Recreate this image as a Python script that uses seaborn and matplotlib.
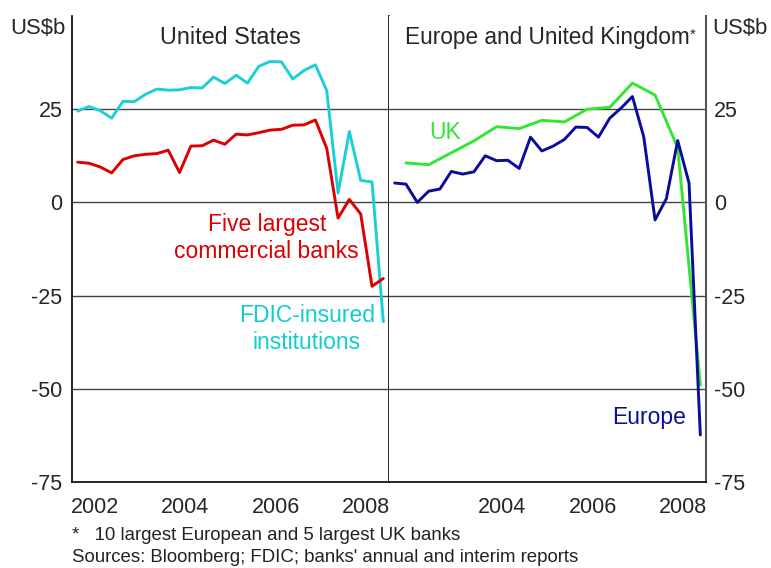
import numpy as np
import pandas as pd
import matplotlib
matplotlib.use("Agg")
import matplotlib.pyplot as plt
import seaborn as sns

# ---------------- data (US$b) ----------------
quarters = pd.period_range("2002Q1", "2008Q4", freq="Q")
fdic = [24.5, 25.7, 24.6, 22.6, 27.1, 27.0, 29.0, 30.4, 30.1, 30.2, 30.8, 30.7,
        33.6, 31.9, 34.1, 32.0, 36.5, 37.8, 37.7, 33.1, 35.4, 36.9, 30.0, 2.5,
        19.0, 5.9, 5.5, -32.0]
five_largest = [10.8, 10.5, 9.5, 7.9, 11.5, 12.5, 12.9, 13.1, 14.0, 8.0, 15.1, 15.2,
                16.7, 15.6, 18.3, 18.1, 18.7, 19.4, 19.6, 20.7, 20.8, 22.1, 14.5, -4.2,
                0.8, -3.1, -22.5, -20.4]
europe = [5.2, 4.9, 0.0, 3.0, 3.6, 8.3, 7.6, 8.2, 12.5, 11.2, 11.3, 9.1,
          17.5, 13.8, 15.1, 16.9, 20.2, 20.1, 17.5, 22.6, 25.3, 28.4, 17.6, -4.7,
          1.0, 16.6, 5.2, -62.4]
uk_periods = quarters[1::2]
uk = [10.6, 10.1, 13.3, 16.5, 20.3, 19.8, 22.0, 21.6, 25.0, 25.5, 32.0, 28.8, 14.7, -49.0]

yticks = [-75, -50, -25, 0, 25]
grid_levels = [-50, -25, 0, 25]
left_year_labels = [2002, 2004, 2006, 2008]
right_year_labels = [2004, 2006, 2008]


def to_x(periods):
    return [p.year + (p.quarter - 0.5) / 4 for p in periods]


us_df = pd.DataFrame({
    "x": to_x(quarters) * 2,
    "value": fdic + five_largest,
    "series": ["FDIC"] * len(fdic) + ["Five"] * len(five_largest),
})
eu_df = pd.DataFrame({
    "x": to_x(uk_periods) + to_x(quarters),
    "value": uk + europe,
    "series": ["UK"] * len(uk) + ["Europe"] * len(europe),
})

# ---------------- style ----------------
sns.set_style("white")
plt.rcParams["font.family"] = ["Liberation Sans", "DejaVu Sans"]

C_FDIC = "#1ccfd4"
C_FIVE = "#dd0000"
C_UK = "#33e633"
C_EU = "#0c0c9c"
GRID = "#444444"

fig = plt.figure(figsize=(7.71, 5.68), dpi=100)
L, R, M = 72 / 771, 706 / 771, 389 / 771
B, T = 1 - 482 / 568, 1 - 16 / 568
axL = fig.add_axes([L, B, M - L, T - B])
axR = fig.add_axes([M, B, R - M, T - B])

sns.lineplot(data=us_df, x="x", y="value", hue="series",
             palette={"FDIC": C_FDIC, "Five": C_FIVE}, hue_order=["FDIC", "Five"],
             estimator=None, linewidth=2.1, legend=False, ax=axL)
sns.lineplot(data=eu_df, x="x", y="value", hue="series",
             palette={"UK": C_UK, "Europe": C_EU}, hue_order=["UK", "Europe"],
             estimator=None, linewidth=2.1, legend=False, ax=axR)

for ax, labels in ((axL, left_year_labels), (axR, right_year_labels)):
    ax.set_xlim(2002, 2009)
    ax.set_ylim(-75, 50)
    for g in grid_levels:
        ax.axhline(g, color=GRID, lw=1.0, zorder=0.5)
    ax.set_xlabel("")
    ax.set_ylabel("")
    ax.set_xticks(range(2003, 2009))
    ax.set_xticklabels([])
    ax.set_xticks([y + 0.5 for y in labels], minor=True)
    ax.set_xticklabels([str(y) for y in labels], minor=True, fontsize=15.5)
    ax.tick_params(axis="x", which="major", direction="in", length=8, width=1, color="black")
    ax.tick_params(axis="x", which="minor", length=0, pad=11)
    ax.spines["top"].set_visible(False)
    ax.spines["bottom"].set_color("black")
    ax.spines["bottom"].set_linewidth(1.2)
    ax.set_yticks(yticks)
    ax.set_yticklabels([str(v) for v in yticks], fontsize=15.5)

axL.tick_params(axis="y", length=0, pad=7)
axL.spines["left"].set_color("black")
axL.spines["left"].set_linewidth(1.2)
axL.spines["right"].set_color("black")
axL.spines["right"].set_linewidth(1.2)

axR.yaxis.tick_right()
axR.tick_params(axis="y", length=0, pad=6)
axR.spines["left"].set_visible(False)
axR.spines["right"].set_color("#555555")
axR.spines["right"].set_linewidth(1.5)

# panel titles
axL.text(0.5, 0.953, "United States", transform=axL.transAxes, ha="center", va="center",
         fontsize=16.8)
t = axR.text(0.5, 0.953, "Europe and United Kingdom", transform=axR.transAxes,
             ha="center", va="center", fontsize=16.3)
axR.annotate("*", xy=(1, 0.95), xycoords=t, ha="left", va="top", fontsize=11)

# units
fig.text(65 / 771, 1 - 28 / 568, "US$b", ha="right", va="center", fontsize=15.8)
fig.text(712 / 771, 1 - 28 / 568, "US$b", ha="left", va="center", fontsize=15.8)

# series labels
axL.text(2006.3, -9.6, "Five largest\ncommercial banks", color=C_FIVE, ha="center",
         va="center", fontsize=16.5, linespacing=1.25)
axL.text(2007.19, -34.0, "FDIC-insured\ninstitutions", color="#10cdd4", ha="center",
         va="center", fontsize=16.5, linespacing=1.25)
axR.text(2003.24, 18.75, "UK", color=C_UK, ha="center", va="center", fontsize=16.5)
axR.text(2007.74, -57.6, "Europe", color=C_EU, ha="center", va="center", fontsize=16.5)

# footnotes
fig.text(72 / 771, 1 - 535 / 568, "*   10 largest European and 5 largest UK banks",
         ha="left", va="center", fontsize=13.4, color="#222222")
fig.text(72 / 771, 1 - 558 / 568, "Sources: Bloomberg; FDIC; banks' annual and interim reports",
         ha="left", va="center", fontsize=13.4, color="#222222")

fig.savefig("out.png", dpi=100)
